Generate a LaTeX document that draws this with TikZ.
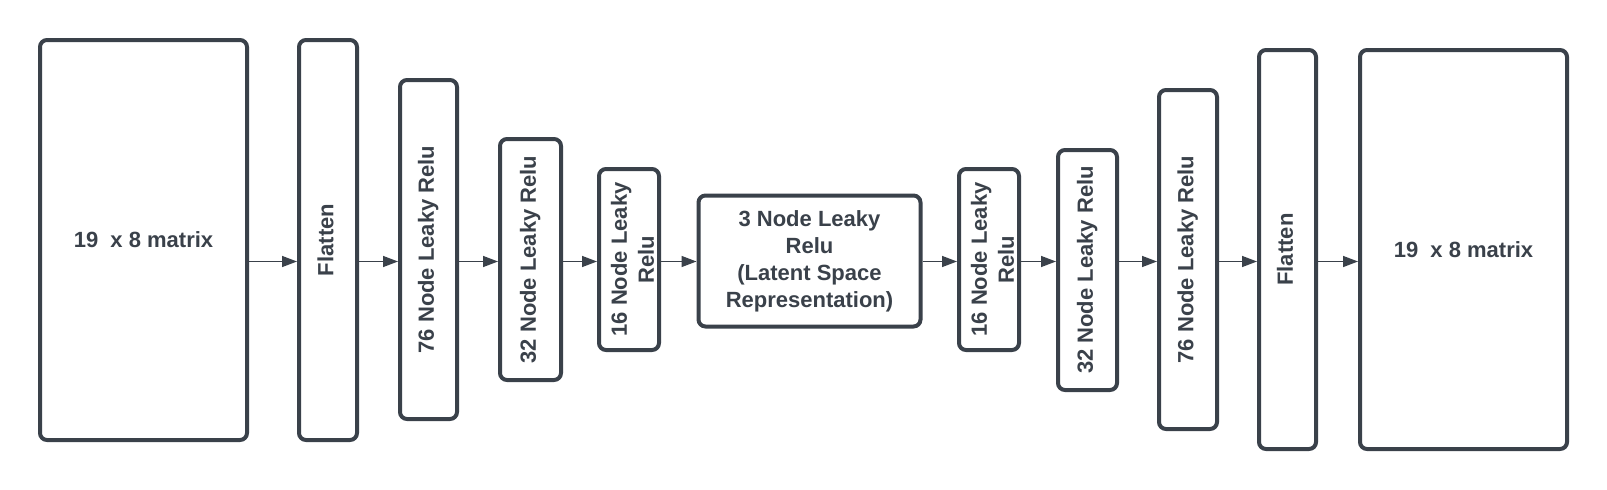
\documentclass[tikz,border=0pt]{standalone}
\usepackage{fontspec}
\setmainfont{Liberation Sans}
\usepackage{graphicx}
\usetikzlibrary{arrows.meta}
\definecolor{ink}{HTML}{3A414A}
\newcommand{\vtext}[1]{\rotatebox{90}{\begin{tabular}{@{}c@{}}#1\end{tabular}}}
\newcommand{\vshift}[1]{\makebox[40pt]{\hspace*{12pt}\vtext{#1}}}
\begin{document}
\begin{tikzpicture}[x=1pt,y=-1pt,
  blk/.style={draw=ink, line width=4pt, rounded corners=7pt, inner sep=0pt, text=ink,
    font=\bfseries\fontsize{22}{27}\selectfont, align=center},
  arr/.style={draw=ink, line width=1.4pt, -{Triangle[length=15pt,width=11pt]}}]
\useasboundingbox (0,0) rectangle (1607,490);
\fill[white] (0,0) rectangle (1607,490);
\coordinate (ay) at (0,261.5);
\node[blk, minimum width=207pt, minimum height=400pt] (m1) at (143.5,240) {19~~x 8 matrix};
\node[blk, minimum width=58pt, minimum height=400pt] (f1) at (328,240) {\vtext{Flatten}};
\node[blk, minimum width=57pt, minimum height=339pt] (e76) at (428.5,249.5) {\vtext{76 Node Leaky Relu}};
\node[blk, minimum width=61pt, minimum height=241pt] (e32) at (530.5,259.5) {\vtext{32 Node Leaky Relu}};
\node[blk, minimum width=60pt, minimum height=181pt] (e16) at (629,259.5) {\vshift{16 Node Leaky\\Relu}};
\node[blk, minimum width=222pt, minimum height=131pt] (lat) at (809.5,261) {3 Node Leaky\\Relu\\(Latent Space\\Representation)};
\node[blk, minimum width=60pt, minimum height=181pt] (d16) at (989,259.5) {\vshift{16 Node Leaky\\Relu}};
\node[blk, minimum width=59pt, minimum height=240pt] (d32) at (1087.5,270) {\vtext{32 Node Leaky Relu}};
\node[blk, minimum width=58pt, minimum height=339pt] (d76) at (1188,259.5) {\vtext{76 Node Leaky Relu}};
\node[blk, minimum width=57pt, minimum height=399pt] (f2) at (1287.5,249.5) {\vtext{Flatten}};
\node[blk, minimum width=207pt, minimum height=399pt] (m2) at (1463.5,249.5) {19~~x 8 matrix};
\draw[arr] (m1.east |- ay) -- (f1.west |- ay);
\draw[arr] (f1.east |- ay) -- (e76.west |- ay);
\draw[arr] (e76.east |- ay) -- (e32.west |- ay);
\draw[arr] (e32.east |- ay) -- (e16.west |- ay);
\draw[arr] (e16.east |- ay) -- (lat.west |- ay);
\draw[arr] (lat.east |- ay) -- (d16.west |- ay);
\draw[arr] (d16.east |- ay) -- (d32.west |- ay);
\draw[arr] (d32.east |- ay) -- (d76.west |- ay);
\draw[arr] (d76.east |- ay) -- (f2.west |- ay);
\draw[arr] (f2.east |- ay) -- (m2.west |- ay);
\end{tikzpicture}
\end{document}
